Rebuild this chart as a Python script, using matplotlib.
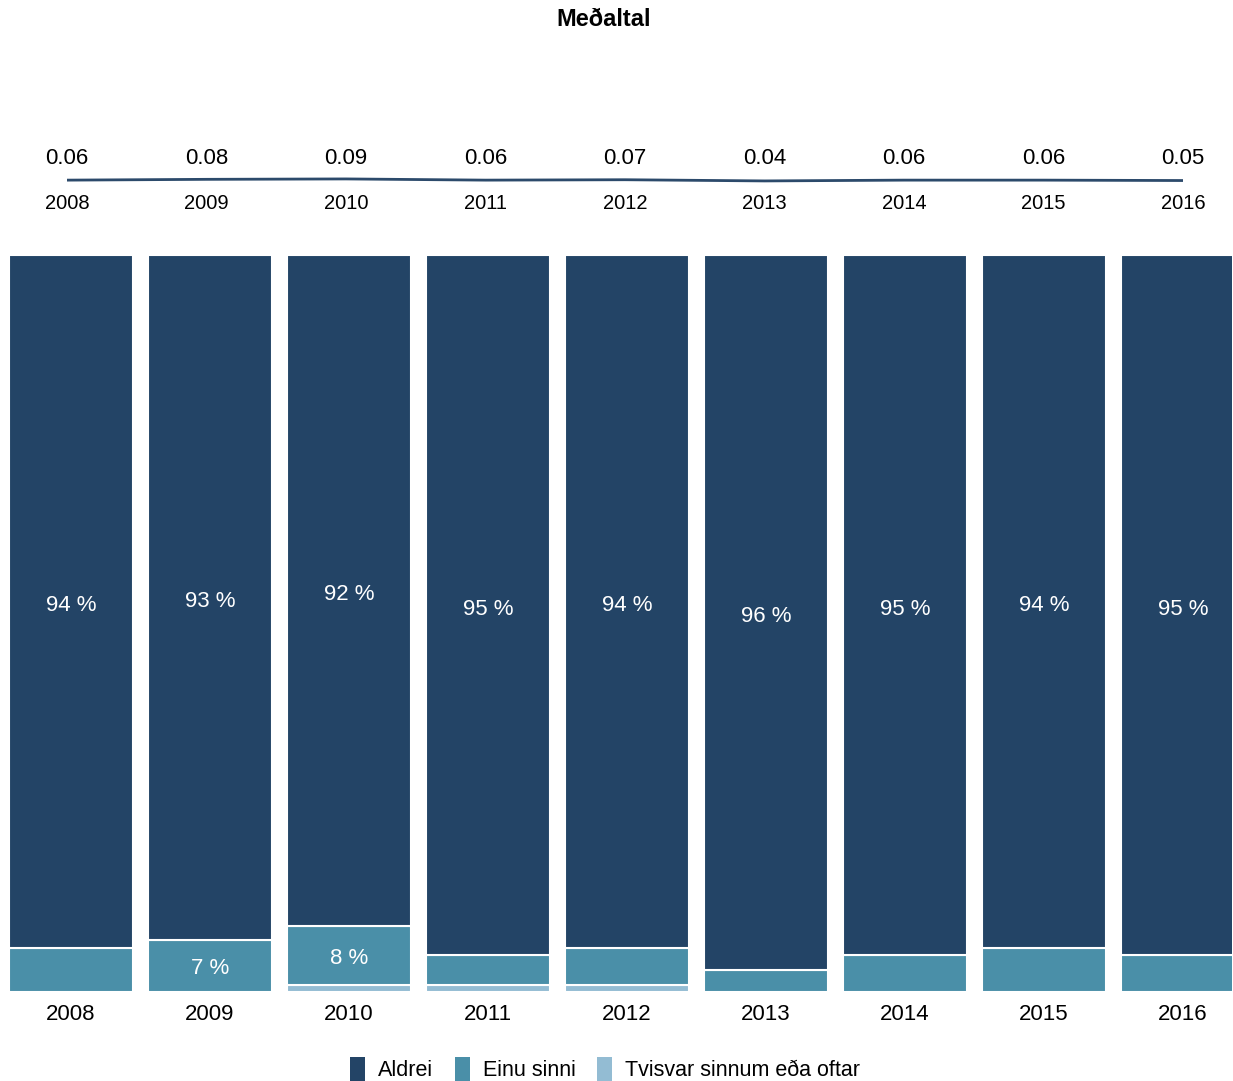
import numpy as np
import matplotlib.pyplot as plt
from matplotlib.patches import Patch

plt.rcParams['font.family'] = ['Liberation Sans', 'DejaVu Sans']

# Gögn
years = ['2008', '2009', '2010', '2011', '2012', '2013', '2014', '2015', '2016']
medaltal = [0.06, 0.08, 0.09, 0.06, 0.07, 0.04, 0.06, 0.06, 0.05]
aldrei = [94, 93, 92, 95, 94, 96, 95, 94, 95]
einu_sinni = [6, 7, 8, 4, 5, 3, 5, 6, 5]
tvisvar = [0, 0, 1, 1, 1, 0, 0, 0, 0]
series_names = ['Aldrei', 'Einu sinni', 'Tvisvar sinnum eða oftar']

c_aldrei = '#234466'
c_einu = '#4a8fa8'
c_tvisvar = '#93bcd3'

W, H = 1233, 1081
fig = plt.figure(figsize=(W / 100, H / 100), dpi=100)

fig.text(604 / W, 1 - 20 / H, 'Meðaltal', ha='center', va='center',
         fontsize=17, fontweight='bold')

# Línurit efst
x = np.arange(len(years))
ax_top = fig.add_axes([67 / W, 1 - 200 / H, (1183 - 67) / W, 40 / H])
mid = np.mean(medaltal)
ax_top.plot(x, medaltal, color='#2c4a6b', linewidth=2)
ax_top.set_xlim(0, 8)
ax_top.set_ylim(mid - 0.5, mid + 0.5)
ax_top.axis('off')
for i, (yr, v) in enumerate(zip(years, medaltal)):
    ax_top.annotate(f'{v:.2f}', (i, mid), xytext=(0, 15.5), textcoords='offset points',
                    ha='center', va='center', fontsize=16)
    ax_top.annotate(yr, (i, mid), xytext=(0, -17), textcoords='offset points',
                    ha='center', va='center', fontsize=14.5)

# Stöplarit (100% staflað)
ax = fig.add_axes([-0.0012, (H - 992) / H, 1, 737 / H])
step = 139.0
x0 = 72.5
ax.set_xlim(-x0 / step, (W - x0) / step)
ax.set_ylim(0, 100)

a = np.array(aldrei, dtype=float)
e = np.array(einu_sinni, dtype=float)
t = np.array(tvisvar, dtype=float)
total = a + e + t
a, e, t = a / total * 100, e / total * 100, t / total * 100

bw = 124 / step
ax.bar(x, t, bottom=0, width=bw, color=c_tvisvar, edgecolor='white', linewidth=1.5)
ax.bar(x, e, bottom=t, width=bw, color=c_einu, edgecolor='white', linewidth=1.5)
ax.bar(x, a, bottom=t + e, width=bw, color=c_aldrei, edgecolor='white', linewidth=1.5)

for i in range(len(years)):
    ax.annotate(f'{aldrei[i]} %', (i, t[i] + e[i] + a[i] / 2), xytext=(0, -3),
                textcoords='offset points', ha='center', va='center',
                color='white', fontsize=16)
    if einu_sinni[i] >= 7:
        ax.annotate(f'{einu_sinni[i]} %', (i, t[i] + e[i] / 2), xytext=(0, -2),
                    textcoords='offset points', ha='center', va='center',
                    color='white', fontsize=16)

ax.set_xticks(x)
ax.set_xticklabels(years, fontsize=16)
ax.tick_params(axis='x', length=0, pad=9)
ax.set_yticks([])
for s in ax.spines.values():
    s.set_visible(False)

handles = [Patch(facecolor=c, edgecolor='none') for c in (c_aldrei, c_einu, c_tvisvar)]
fig.legend(handles, series_names, loc='center', bbox_to_anchor=(605 / W, 1 - 1069 / H),
           ncol=3, frameon=False, fontsize=15.5, handlelength=0.7, handleheight=1.4,
           handletextpad=0.6, columnspacing=1.0)

plt.savefig('out.png', dpi=100)
